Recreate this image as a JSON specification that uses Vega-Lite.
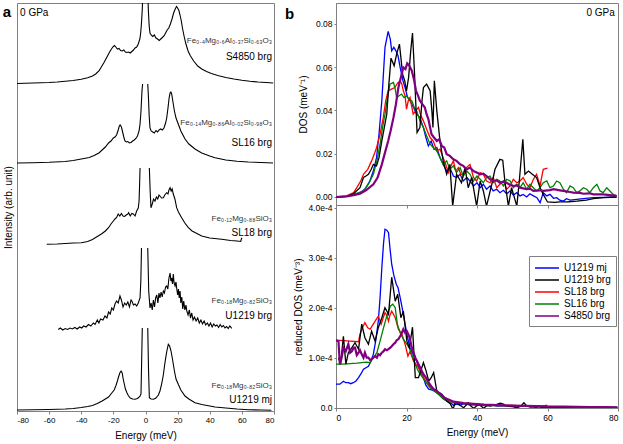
{
  "$schema": "https://vega.github.io/schema/vega-lite/v6.json",
  "padding": {"left": 2, "top": 2, "right": 4, "bottom": 0},
  "config": {
    "font": "Liberation Sans",
    "view": {"stroke": "#808080", "strokeWidth": 1},
    "axis": {"domainColor": "#808080", "tickColor": "#808080", "labelColor": "#000000", "labelFontSize": 8.5, "titleFontSize": 10, "titleFontWeight": "normal", "titleColor": "#000000", "grid": false, "labelFont": "Liberation Sans", "titleFont": "Liberation Sans", "labelOverlap": false},
    "legend": {"labelFont": "Liberation Sans"}
  },
  "datasets": {
    "spec": [
      {"g":"S4850L","e":-80,"v":327.5},{"g":"S4850L","e":-75,"v":327.7},{"g":"S4850L","e":-70,"v":328},{"g":"S4850L","e":-65,"v":328.2},{"g":"S4850L","e":-60,"v":328.5},{"g":"S4850L","e":-55,"v":329},{"g":"S4850L","e":-50,"v":329.7},{"g":"S4850L","e":-45,"v":330.5},{"g":"S4850L","e":-40,"v":331.7},{"g":"S4850L","e":-36,"v":333.2},{"g":"S4850L","e":-33,"v":335},{"g":"S4850L","e":-31,"v":337},{"g":"S4850L","e":-29,"v":340},{"g":"S4850L","e":-27.5,"v":344},{"g":"S4850L","e":-26,"v":348},{"g":"S4850L","e":-25,"v":351},{"g":"S4850L","e":-24,"v":354},{"g":"S4850L","e":-23,"v":357},{"g":"S4850L","e":-22,"v":360},{"g":"S4850L","e":-21,"v":362.5},{"g":"S4850L","e":-20,"v":364.5},{"g":"S4850L","e":-19.3,"v":365.5},{"g":"S4850L","e":-18.5,"v":364},{"g":"S4850L","e":-17.5,"v":362},{"g":"S4850L","e":-16.5,"v":362.5},{"g":"S4850L","e":-15.5,"v":360.5},{"g":"S4850L","e":-14.5,"v":360},{"g":"S4850L","e":-13.5,"v":361},{"g":"S4850L","e":-12.5,"v":359},{"g":"S4850L","e":-11.5,"v":358.5},{"g":"S4850L","e":-10.5,"v":359},{"g":"S4850L","e":-9.5,"v":358},{"g":"S4850L","e":-8.5,"v":359.5},{"g":"S4850L","e":-7.5,"v":361},{"g":"S4850L","e":-6.5,"v":363},{"g":"S4850L","e":-5.5,"v":364},{"g":"S4850L","e":-4.5,"v":367},{"g":"S4850L","e":-3.5,"v":372},{"g":"S4850L","e":-3,"v":378},{"g":"S4850L","e":-2.5,"v":388},{"g":"S4850L","e":-2,"v":402},{"g":"S4850L","e":-1.7,"v":415},
      {"g":"S4850R","e":1.5,"v":415},{"g":"S4850R","e":1.8,"v":400},{"g":"S4850R","e":2.3,"v":385},{"g":"S4850R","e":2.8,"v":378},{"g":"S4850R","e":3.5,"v":376},{"g":"S4850R","e":4.5,"v":374.5},{"g":"S4850R","e":5.5,"v":376},{"g":"S4850R","e":6.5,"v":373},{"g":"S4850R","e":7.5,"v":372},{"g":"S4850R","e":8.5,"v":370.5},{"g":"S4850R","e":9.5,"v":372},{"g":"S4850R","e":10.5,"v":373.5},{"g":"S4850R","e":11.5,"v":375},{"g":"S4850R","e":12.5,"v":378},{"g":"S4850R","e":13.5,"v":381},{"g":"S4850R","e":14.5,"v":383},{"g":"S4850R","e":15.5,"v":387},{"g":"S4850R","e":16.5,"v":392},{"g":"S4850R","e":17.5,"v":398},{"g":"S4850R","e":18.5,"v":402},{"g":"S4850R","e":19.3,"v":404.5},{"g":"S4850R","e":20,"v":403},{"g":"S4850R","e":20.8,"v":400.5},{"g":"S4850R","e":21.5,"v":396},{"g":"S4850R","e":22.3,"v":390},{"g":"S4850R","e":23,"v":383},{"g":"S4850R","e":24,"v":375},{"g":"S4850R","e":25,"v":368},{"g":"S4850R","e":26.5,"v":360},{"g":"S4850R","e":28,"v":355},{"g":"S4850R","e":30,"v":350},{"g":"S4850R","e":32.5,"v":345},{"g":"S4850R","e":35,"v":342},{"g":"S4850R","e":38,"v":339.5},{"g":"S4850R","e":41,"v":337.5},{"g":"S4850R","e":45,"v":335.5},{"g":"S4850R","e":50,"v":333.5},{"g":"S4850R","e":55,"v":332},{"g":"S4850R","e":60,"v":330.7},{"g":"S4850R","e":65,"v":329.7},{"g":"S4850R","e":70,"v":329},{"g":"S4850R","e":75,"v":328.5},{"g":"S4850R","e":79.5,"v":328},
      {"g":"SL16L","e":-80,"v":248},{"g":"SL16L","e":-70,"v":248.3},{"g":"SL16L","e":-60,"v":248.7},{"g":"SL16L","e":-50,"v":249.5},{"g":"SL16L","e":-45,"v":250.5},{"g":"SL16L","e":-40,"v":252},{"g":"SL16L","e":-35,"v":253.5},{"g":"SL16L","e":-32,"v":255.5},{"g":"SL16L","e":-29,"v":258},{"g":"SL16L","e":-27,"v":261},{"g":"SL16L","e":-25,"v":264},{"g":"SL16L","e":-23,"v":268},{"g":"SL16L","e":-21.5,"v":270},{"g":"SL16L","e":-20,"v":273},{"g":"SL16L","e":-19,"v":274},{"g":"SL16L","e":-18,"v":276},{"g":"SL16L","e":-17,"v":281},{"g":"SL16L","e":-16.3,"v":285},{"g":"SL16L","e":-15.8,"v":286},{"g":"SL16L","e":-15,"v":284},{"g":"SL16L","e":-14.4,"v":280},{"g":"SL16L","e":-13.5,"v":274},{"g":"SL16L","e":-12.8,"v":270},{"g":"SL16L","e":-12,"v":269},{"g":"SL16L","e":-11,"v":269.5},{"g":"SL16L","e":-10,"v":268},{"g":"SL16L","e":-9,"v":268.5},{"g":"SL16L","e":-8,"v":270},{"g":"SL16L","e":-7,"v":271},{"g":"SL16L","e":-6,"v":272.5},{"g":"SL16L","e":-5,"v":275},{"g":"SL16L","e":-4,"v":280},{"g":"SL16L","e":-3.4,"v":287},{"g":"SL16L","e":-2.8,"v":300},{"g":"SL16L","e":-2.2,"v":320},{"g":"SL16L","e":-1.8,"v":327},
      {"g":"SL16R","e":1.4,"v":327},{"g":"SL16R","e":1.8,"v":315},{"g":"SL16R","e":2.3,"v":295},{"g":"SL16R","e":2.8,"v":283},{"g":"SL16R","e":3.5,"v":280},{"g":"SL16R","e":4.5,"v":279},{"g":"SL16R","e":5.5,"v":278},{"g":"SL16R","e":6.5,"v":280.5},{"g":"SL16R","e":7.5,"v":279},{"g":"SL16R","e":8.5,"v":281},{"g":"SL16R","e":9.5,"v":282},{"g":"SL16R","e":10.5,"v":281},{"g":"SL16R","e":11.5,"v":283},{"g":"SL16R","e":12.5,"v":288},{"g":"SL16R","e":13.2,"v":293},{"g":"SL16R","e":14,"v":303},{"g":"SL16R","e":14.7,"v":313},{"g":"SL16R","e":15.3,"v":318},{"g":"SL16R","e":15.8,"v":319},{"g":"SL16R","e":16.3,"v":317},{"g":"SL16R","e":17,"v":310},{"g":"SL16R","e":18,"v":300},{"g":"SL16R","e":19,"v":293},{"g":"SL16R","e":20.4,"v":287},{"g":"SL16R","e":22,"v":280},{"g":"SL16R","e":24.6,"v":272},{"g":"SL16R","e":27,"v":267},{"g":"SL16R","e":30.8,"v":262},{"g":"SL16R","e":35,"v":258},{"g":"SL16R","e":40,"v":255},{"g":"SL16R","e":43.3,"v":253.3},{"g":"SL16R","e":50,"v":251},{"g":"SL16R","e":57,"v":249.7},{"g":"SL16R","e":64,"v":249},{"g":"SL16R","e":72,"v":248.5},{"g":"SL16R","e":79.4,"v":248},
      {"g":"SL18L","e":-61.5,"v":166.7},{"g":"SL18L","e":-55,"v":167},{"g":"SL18L","e":-50,"v":167.5},{"g":"SL18L","e":-45,"v":168},{"g":"SL18L","e":-40,"v":168.3},{"g":"SL18L","e":-36,"v":169.5},{"g":"SL18L","e":-33,"v":171.5},{"g":"SL18L","e":-30.5,"v":174},{"g":"SL18L","e":-29,"v":175.5},{"g":"SL18L","e":-27,"v":177.5},{"g":"SL18L","e":-25,"v":180},{"g":"SL18L","e":-23,"v":183.3},{"g":"SL18L","e":-21.5,"v":187},{"g":"SL18L","e":-20,"v":190},{"g":"SL18L","e":-19,"v":192},{"g":"SL18L","e":-18,"v":193.5},{"g":"SL18L","e":-17,"v":197},{"g":"SL18L","e":-16,"v":195},{"g":"SL18L","e":-15,"v":197.5},{"g":"SL18L","e":-14,"v":195},{"g":"SL18L","e":-13,"v":194.5},{"g":"SL18L","e":-12,"v":196},{"g":"SL18L","e":-11,"v":197},{"g":"SL18L","e":-10.5,"v":198.3},{"g":"SL18L","e":-9.5,"v":195},{"g":"SL18L","e":-8.5,"v":197.5},{"g":"SL18L","e":-7.6,"v":197},{"g":"SL18L","e":-6.5,"v":195},{"g":"SL18L","e":-5.5,"v":200},{"g":"SL18L","e":-4.5,"v":203},{"g":"SL18L","e":-4,"v":210},{"g":"SL18L","e":-3.7,"v":225},{"g":"SL18L","e":-3.4,"v":243},
      {"g":"SL18R","e":2.4,"v":243},{"g":"SL18R","e":2.9,"v":220},{"g":"SL18R","e":3.4,"v":203.3},{"g":"SL18R","e":4.2,"v":207},{"g":"SL18R","e":5,"v":212},{"g":"SL18R","e":5.9,"v":210},{"g":"SL18R","e":6.8,"v":214},{"g":"SL18R","e":7.6,"v":212},{"g":"SL18R","e":8.4,"v":216},{"g":"SL18R","e":9,"v":215},{"g":"SL18R","e":10,"v":213},{"g":"SL18R","e":11.1,"v":213.3},{"g":"SL18R","e":12,"v":216},{"g":"SL18R","e":13.2,"v":218.3},{"g":"SL18R","e":14,"v":217},{"g":"SL18R","e":14.6,"v":221},{"g":"SL18R","e":15.3,"v":223.3},{"g":"SL18R","e":16,"v":220},{"g":"SL18R","e":16.6,"v":222},{"g":"SL18R","e":17.3,"v":217},{"g":"SL18R","e":18.3,"v":212},{"g":"SL18R","e":19.4,"v":203.3},{"g":"SL18R","e":20.5,"v":199},{"g":"SL18R","e":22.5,"v":193.3},{"g":"SL18R","e":24.5,"v":188},{"g":"SL18R","e":26.7,"v":183.3},{"g":"SL18R","e":29,"v":180},{"g":"SL18R","e":32,"v":177.5},{"g":"SL18R","e":35,"v":175},{"g":"SL18R","e":40,"v":173},{"g":"SL18R","e":47.4,"v":171.7},{"g":"SL18R","e":53,"v":170.5},{"g":"SL18R","e":57,"v":170},{"g":"SL18R","e":59.3,"v":169.5},{"g":"SL18R","e":59.6,"v":171.5},{"g":"SL18R","e":60,"v":173.3},
      {"g":"BRGL","e":-54.3,"v":81.5},{"g":"BRGL","e":-53,"v":83},{"g":"BRGL","e":-51.5,"v":81},{"g":"BRGL","e":-50,"v":82.5},{"g":"BRGL","e":-48.5,"v":81.5},{"g":"BRGL","e":-47,"v":83},{"g":"BRGL","e":-45.5,"v":82},{"g":"BRGL","e":-44,"v":83.5},{"g":"BRGL","e":-42.5,"v":82},{"g":"BRGL","e":-41,"v":84},{"g":"BRGL","e":-39.7,"v":83},{"g":"BRGL","e":-38.5,"v":85},{"g":"BRGL","e":-37,"v":84},{"g":"BRGL","e":-35.5,"v":86.5},{"g":"BRGL","e":-34,"v":85},{"g":"BRGL","e":-32.5,"v":88},{"g":"BRGL","e":-31.4,"v":86.5},{"g":"BRGL","e":-30,"v":91},{"g":"BRGL","e":-29,"v":88},{"g":"BRGL","e":-28,"v":92},{"g":"BRGL","e":-26.5,"v":91},{"g":"BRGL","e":-25.2,"v":95},{"g":"BRGL","e":-24,"v":93},{"g":"BRGL","e":-23,"v":99},{"g":"BRGL","e":-22,"v":97},{"g":"BRGL","e":-21,"v":103},{"g":"BRGL","e":-20,"v":101},{"g":"BRGL","e":-19,"v":107},{"g":"BRGL","e":-18,"v":110},{"g":"BRGL","e":-17,"v":108},{"g":"BRGL","e":-15.9,"v":115},{"g":"BRGL","e":-15,"v":111},{"g":"BRGL","e":-14,"v":104},{"g":"BRGL","e":-13,"v":108},{"g":"BRGL","e":-12,"v":106},{"g":"BRGL","e":-11,"v":109},{"g":"BRGL","e":-10,"v":104},{"g":"BRGL","e":-9,"v":111},{"g":"BRGL","e":-8.5,"v":110},{"g":"BRGL","e":-7.5,"v":106},{"g":"BRGL","e":-6.5,"v":107},{"g":"BRGL","e":-5.5,"v":105},{"g":"BRGL","e":-4.5,"v":108},{"g":"BRGL","e":-3.4,"v":113},{"g":"BRGL","e":-2.9,"v":130},{"g":"BRGL","e":-2.5,"v":163},
      {"g":"BRGR","e":1.4,"v":163},{"g":"BRGR","e":2,"v":120},{"g":"BRGR","e":2.8,"v":103},{"g":"BRGR","e":3.5,"v":108},{"g":"BRGR","e":4.2,"v":101},{"g":"BRGR","e":4.9,"v":111},{"g":"BRGR","e":5.6,"v":104},{"g":"BRGR","e":6.3,"v":113},{"g":"BRGR","e":7,"v":116},{"g":"BRGR","e":7.7,"v":108},{"g":"BRGR","e":8.4,"v":118},{"g":"BRGR","e":9,"v":113},{"g":"BRGR","e":9.7,"v":119},{"g":"BRGR","e":10.4,"v":114},{"g":"BRGR","e":11.1,"v":120},{"g":"BRGR","e":11.8,"v":118},{"g":"BRGR","e":12.5,"v":124},{"g":"BRGR","e":13.2,"v":125},{"g":"BRGR","e":13.9,"v":122},{"g":"BRGR","e":14.6,"v":133},{"g":"BRGR","e":15.3,"v":138},{"g":"BRGR","e":15.8,"v":130},{"g":"BRGR","e":16.3,"v":133},{"g":"BRGR","e":16.8,"v":127},{"g":"BRGR","e":17.3,"v":137},{"g":"BRGR","e":17.8,"v":128},{"g":"BRGR","e":18.4,"v":125},{"g":"BRGR","e":19,"v":129},{"g":"BRGR","e":19.4,"v":123},{"g":"BRGR","e":20,"v":116},{"g":"BRGR","e":20.5,"v":122},{"g":"BRGR","e":21,"v":113},{"g":"BRGR","e":21.5,"v":120},{"g":"BRGR","e":22,"v":108},{"g":"BRGR","e":22.6,"v":114},{"g":"BRGR","e":23.2,"v":102},{"g":"BRGR","e":23.8,"v":110},{"g":"BRGR","e":24.5,"v":101},{"g":"BRGR","e":25.2,"v":106},{"g":"BRGR","e":25.7,"v":100},{"g":"BRGR","e":26.5,"v":96},{"g":"BRGR","e":27.3,"v":101},{"g":"BRGR","e":28,"v":93},{"g":"BRGR","e":28.8,"v":98},{"g":"BRGR","e":29.6,"v":91},{"g":"BRGR","e":30.5,"v":94},{"g":"BRGR","e":31.5,"v":90},{"g":"BRGR","e":32.5,"v":93},{"g":"BRGR","e":33.5,"v":88},{"g":"BRGR","e":34.5,"v":91},{"g":"BRGR","e":35.5,"v":87},{"g":"BRGR","e":36.5,"v":90},{"g":"BRGR","e":37.5,"v":86},{"g":"BRGR","e":38.5,"v":88},{"g":"BRGR","e":39.5,"v":85},{"g":"BRGR","e":40.5,"v":88},{"g":"BRGR","e":41.5,"v":84},{"g":"BRGR","e":42.5,"v":87},{"g":"BRGR","e":43.5,"v":85},{"g":"BRGR","e":44.5,"v":86},{"g":"BRGR","e":45.5,"v":83.5},{"g":"BRGR","e":46.5,"v":86.5},{"g":"BRGR","e":47.5,"v":84},{"g":"BRGR","e":48.5,"v":85.5},{"g":"BRGR","e":49.5,"v":83},{"g":"BRGR","e":50.5,"v":84.5},{"g":"BRGR","e":51.5,"v":82.5},{"g":"BRGR","e":52.5,"v":85},{"g":"BRGR","e":53.7,"v":82.7},
      {"g":"MJL","e":-80,"v":1},{"g":"MJL","e":-70,"v":1.2},{"g":"MJL","e":-60,"v":1.5},{"g":"MJL","e":-50,"v":2},{"g":"MJL","e":-45,"v":2.5},{"g":"MJL","e":-40,"v":3.5},{"g":"MJL","e":-36,"v":4.5},{"g":"MJL","e":-33,"v":5.5},{"g":"MJL","e":-30,"v":7.5},{"g":"MJL","e":-27,"v":10},{"g":"MJL","e":-25,"v":12},{"g":"MJL","e":-23,"v":14},{"g":"MJL","e":-21,"v":18},{"g":"MJL","e":-19.5,"v":21},{"g":"MJL","e":-18.5,"v":25},{"g":"MJL","e":-17.5,"v":30},{"g":"MJL","e":-16.8,"v":34},{"g":"MJL","e":-16,"v":38},{"g":"MJL","e":-15.2,"v":40},{"g":"MJL","e":-14.5,"v":38},{"g":"MJL","e":-14,"v":33},{"g":"MJL","e":-13.2,"v":27},{"g":"MJL","e":-12.5,"v":22},{"g":"MJL","e":-11.5,"v":18},{"g":"MJL","e":-10.7,"v":15.5},{"g":"MJL","e":-9.5,"v":13},{"g":"MJL","e":-8,"v":12},{"g":"MJL","e":-6.5,"v":11.7},{"g":"MJL","e":-5,"v":12.5},{"g":"MJL","e":-3.5,"v":14.5},{"g":"MJL","e":-2.8,"v":17},{"g":"MJL","e":-2.4,"v":50},{"g":"MJL","e":-2,"v":83},
      {"g":"MJR","e":1.4,"v":83},{"g":"MJR","e":1.9,"v":40},{"g":"MJR","e":2.4,"v":13.3},{"g":"MJR","e":3.5,"v":12},{"g":"MJR","e":5,"v":11.7},{"g":"MJR","e":6.5,"v":13},{"g":"MJR","e":8,"v":16},{"g":"MJR","e":9,"v":20},{"g":"MJR","e":10,"v":26.7},{"g":"MJR","e":11,"v":35},{"g":"MJR","e":12,"v":47},{"g":"MJR","e":12.6,"v":53.3},{"g":"MJR","e":13.3,"v":60},{"g":"MJR","e":14.2,"v":66.7},{"g":"MJR","e":15,"v":65},{"g":"MJR","e":15.9,"v":60},{"g":"MJR","e":17,"v":50},{"g":"MJR","e":18,"v":40},{"g":"MJR","e":19,"v":32},{"g":"MJR","e":20.4,"v":26.7},{"g":"MJR","e":22,"v":21},{"g":"MJR","e":24.6,"v":15},{"g":"MJR","e":27,"v":12},{"g":"MJR","e":30.8,"v":8.3},{"g":"MJR","e":35,"v":6.5},{"g":"MJR","e":40,"v":5},{"g":"MJR","e":43.3,"v":4},{"g":"MJR","e":50,"v":3},{"g":"MJR","e":57,"v":2},{"g":"MJR","e":64,"v":1.3},{"g":"MJR","e":72,"v":1},{"g":"MJR","e":78.4,"v":0.7}
    ],
    "alab": [
      {"k":"f","e":78.8,"v":370,"t":"Fe₀.₄Mg₀.₆Al₀.₃₇Si₀.₆₃O₃"},
      {"k":"n","e":78.8,"v":354,"t":"S4850 brg"},
      {"k":"f","e":78.8,"v":288,"t":"Fe₀.₁₄Mg₀.₈₆Al₀.₀₂Si₀.₉₈O₃"},
      {"k":"n","e":78.8,"v":268,"t":"SL16 brg"},
      {"k":"f","e":78.8,"v":192,"t":"Fe₀.₁₂Mg₀.₈₈SiO₃"},
      {"k":"n","e":78.8,"v":178,"t":"SL18 brg"},
      {"k":"f","e":78.8,"v":110,"t":"Fe₀.₁₈Mg₀.₈₂SiO₃"},
      {"k":"n","e":78.8,"v":95,"t":"U1219 brg"},
      {"k":"f","e":78.8,"v":25,"t":"Fe₀.₁₈Mg₀.₈₂SiO₃"},
      {"k":"n","e":78.8,"v":11,"t":"U1219 mj"},
      {"k":"p","e":-78.1,"v":398,"t":"0 GPa"},
      {"k":"b","e":-88.8,"v":399,"t":"a"}
    ],
    "dos": [
      {"s":"U1219 mj","e":0,"v":0},{"s":"U1219 mj","e":3,"v":0.0003},{"s":"U1219 mj","e":5,"v":0.0009},{"s":"U1219 mj","e":6.8,"v":0.002},{"s":"U1219 mj","e":8.2,"v":0.0036},{"s":"U1219 mj","e":9.6,"v":0.0074},{"s":"U1219 mj","e":10.6,"v":0.012},{"s":"U1219 mj","e":11.5,"v":0.0182},{"s":"U1219 mj","e":12.2,"v":0.029},{"s":"U1219 mj","e":13,"v":0.0445},{"s":"U1219 mj","e":13.9,"v":0.0692},{"s":"U1219 mj","e":14.8,"v":0.0766},{"s":"U1219 mj","e":15.4,"v":0.073},{"s":"U1219 mj","e":15.8,"v":0.0676},{"s":"U1219 mj","e":16.4,"v":0.0692},{"s":"U1219 mj","e":17,"v":0.0676},{"s":"U1219 mj","e":17.6,"v":0.0653},{"s":"U1219 mj","e":18.2,"v":0.0599},{"s":"U1219 mj","e":19,"v":0.0537},{"s":"U1219 mj","e":19.6,"v":0.0506},{"s":"U1219 mj","e":20.3,"v":0.046},{"s":"U1219 mj","e":21,"v":0.0445},{"s":"U1219 mj","e":22,"v":0.0414},{"s":"U1219 mj","e":22.9,"v":0.0383},{"s":"U1219 mj","e":23.8,"v":0.0367},{"s":"U1219 mj","e":24.8,"v":0.0321},{"s":"U1219 mj","e":25.5,"v":0.0275},{"s":"U1219 mj","e":26.2,"v":0.0236},{"s":"U1219 mj","e":27,"v":0.0259},{"s":"U1219 mj","e":27.8,"v":0.0221},{"s":"U1219 mj","e":28.6,"v":0.0229},{"s":"U1219 mj","e":29.5,"v":0.0182},{"s":"U1219 mj","e":30.4,"v":0.0151},{"s":"U1219 mj","e":31.4,"v":0.012},{"s":"U1219 mj","e":32.3,"v":0.0136},{"s":"U1219 mj","e":33.3,"v":0.0097},{"s":"U1219 mj","e":34.2,"v":0.009},{"s":"U1219 mj","e":35.2,"v":0.0105},{"s":"U1219 mj","e":36.1,"v":0.0074},{"s":"U1219 mj","e":37.1,"v":0.009},{"s":"U1219 mj","e":38,"v":0.0074},{"s":"U1219 mj","e":39,"v":0.0051},{"s":"U1219 mj","e":40,"v":0.0066},{"s":"U1219 mj","e":40.9,"v":0.0043},{"s":"U1219 mj","e":41.8,"v":0.0059},{"s":"U1219 mj","e":42.7,"v":0.0036},{"s":"U1219 mj","e":43.7,"v":0.0051},{"s":"U1219 mj","e":44.6,"v":0.0028},{"s":"U1219 mj","e":45.6,"v":0.0036},{"s":"U1219 mj","e":46.5,"v":0.002},{"s":"U1219 mj","e":47.5,"v":0.0031},{"s":"U1219 mj","e":48.4,"v":0.0015},{"s":"U1219 mj","e":49.4,"v":0.0028},{"s":"U1219 mj","e":50.3,"v":0.0009},{"s":"U1219 mj","e":51.3,"v":0.002},{"s":"U1219 mj","e":52.2,"v":0.0005},{"s":"U1219 mj","e":53.1,"v":0.0012},{"s":"U1219 mj","e":54.1,"v":0},{"s":"U1219 mj","e":55,"v":0.0015},{"s":"U1219 mj","e":56,"v":0.0005},{"s":"U1219 mj","e":57,"v":-0.0003},{"s":"U1219 mj","e":57.9,"v":-0.0026},{"s":"U1219 mj","e":58.8,"v":0.002},{"s":"U1219 mj","e":59.8,"v":0.0005},{"s":"U1219 mj","e":60.7,"v":0.0012},{"s":"U1219 mj","e":61.7,"v":-0.0006},{"s":"U1219 mj","e":62.6,"v":-0.0003},{"s":"U1219 mj","e":63.5,"v":-0.0015},{"s":"U1219 mj","e":64.5,"v":-0.0019},{"s":"U1219 mj","e":65.4,"v":-0.0008},{"s":"U1219 mj","e":66.4,"v":-0.0014},{"s":"U1219 mj","e":68.3,"v":-0.0011},{"s":"U1219 mj","e":70.2,"v":-0.0008},{"s":"U1219 mj","e":73,"v":-0.0003},{"s":"U1219 mj","e":76,"v":-0.0002},{"s":"U1219 mj","e":79.6,"v":0},
      {"s":"SL18 brg","e":0,"v":0},{"s":"SL18 brg","e":3,"v":0.0005},{"s":"SL18 brg","e":5,"v":0.002},{"s":"SL18 brg","e":5.9,"v":0.0043},{"s":"SL18 brg","e":7,"v":0.0074},{"s":"SL18 brg","e":7.8,"v":0.0105},{"s":"SL18 brg","e":9,"v":0.0128},{"s":"SL18 brg","e":10.1,"v":0.0167},{"s":"SL18 brg","e":11,"v":0.0205},{"s":"SL18 brg","e":11.5,"v":0.0228},{"s":"SL18 brg","e":12.5,"v":0.029},{"s":"SL18 brg","e":13.4,"v":0.0367},{"s":"SL18 brg","e":14.1,"v":0.0445},{"s":"SL18 brg","e":14.8,"v":0.0491},{"s":"SL18 brg","e":15.7,"v":0.0499},{"s":"SL18 brg","e":16.7,"v":0.0506},{"s":"SL18 brg","e":17.4,"v":0.0525},{"s":"SL18 brg","e":18.2,"v":0.0537},{"s":"SL18 brg","e":18.7,"v":0.0522},{"s":"SL18 brg","e":19.1,"v":0.0491},{"s":"SL18 brg","e":19.6,"v":0.0468},{"s":"SL18 brg","e":20,"v":0.0406},{"s":"SL18 brg","e":20.5,"v":0.0445},{"s":"SL18 brg","e":21,"v":0.046},{"s":"SL18 brg","e":21.9,"v":0.0383},{"s":"SL18 brg","e":22.6,"v":0.0398},{"s":"SL18 brg","e":23.4,"v":0.0414},{"s":"SL18 brg","e":24.1,"v":0.0375},{"s":"SL18 brg","e":24.8,"v":0.0352},{"s":"SL18 brg","e":25.7,"v":0.0313},{"s":"SL18 brg","e":26.7,"v":0.0275},{"s":"SL18 brg","e":27.6,"v":0.0259},{"s":"SL18 brg","e":28.6,"v":0.0213},{"s":"SL18 brg","e":29.5,"v":0.0221},{"s":"SL18 brg","e":30.4,"v":0.0182},{"s":"SL18 brg","e":31.1,"v":0.0151},{"s":"SL18 brg","e":31.9,"v":0.0113},{"s":"SL18 brg","e":32.6,"v":0.0144},{"s":"SL18 brg","e":33.3,"v":0.0167},{"s":"SL18 brg","e":34,"v":0.012},{"s":"SL18 brg","e":34.7,"v":0.0136},{"s":"SL18 brg","e":35.4,"v":0.0105},{"s":"SL18 brg","e":36.1,"v":0.0105},{"s":"SL18 brg","e":37,"v":0.0136},{"s":"SL18 brg","e":38,"v":0.0151},{"s":"SL18 brg","e":39,"v":0.009},{"s":"SL18 brg","e":39.9,"v":0.0074},{"s":"SL18 brg","e":40.9,"v":0.0113},{"s":"SL18 brg","e":41.8,"v":0.0105},{"s":"SL18 brg","e":42.7,"v":0.0074},{"s":"SL18 brg","e":43.7,"v":0.0066},{"s":"SL18 brg","e":44.6,"v":0.009},{"s":"SL18 brg","e":45.6,"v":0.0043},{"s":"SL18 brg","e":46.5,"v":0.0059},{"s":"SL18 brg","e":47.5,"v":0.0074},{"s":"SL18 brg","e":48.4,"v":0.0036},{"s":"SL18 brg","e":49.4,"v":0.0051},{"s":"SL18 brg","e":50.3,"v":0.0082},{"s":"SL18 brg","e":51.3,"v":0.0066},{"s":"SL18 brg","e":52.2,"v":0.0074},{"s":"SL18 brg","e":53.1,"v":0.009},{"s":"SL18 brg","e":54.1,"v":0.0059},{"s":"SL18 brg","e":55,"v":0.0043},{"s":"SL18 brg","e":56,"v":0.0082},{"s":"SL18 brg","e":56.9,"v":0.0105},{"s":"SL18 brg","e":57.9,"v":0.0051},{"s":"SL18 brg","e":58.5,"v":0.0105},{"s":"SL18 brg","e":58.8,"v":0.0128},{"s":"SL18 brg","e":60,"v":0.0133},
      {"s":"SL16 brg","e":0,"v":0},{"s":"SL16 brg","e":3,"v":0.0003},{"s":"SL16 brg","e":5,"v":0.0012},{"s":"SL16 brg","e":6.5,"v":0.002},{"s":"SL16 brg","e":7.8,"v":0.0028},{"s":"SL16 brg","e":9.2,"v":0.0059},{"s":"SL16 brg","e":10.6,"v":0.0105},{"s":"SL16 brg","e":11.6,"v":0.0167},{"s":"SL16 brg","e":12.5,"v":0.0244},{"s":"SL16 brg","e":13.2,"v":0.0321},{"s":"SL16 brg","e":13.9,"v":0.0383},{"s":"SL16 brg","e":14.6,"v":0.046},{"s":"SL16 brg","e":15.3,"v":0.0522},{"s":"SL16 brg","e":16.3,"v":0.053},{"s":"SL16 brg","e":16.8,"v":0.0499},{"s":"SL16 brg","e":17.2,"v":0.046},{"s":"SL16 brg","e":17.9,"v":0.0468},{"s":"SL16 brg","e":18.6,"v":0.0476},{"s":"SL16 brg","e":19.3,"v":0.046},{"s":"SL16 brg","e":20,"v":0.0468},{"s":"SL16 brg","e":20.8,"v":0.0452},{"s":"SL16 brg","e":21.5,"v":0.0445},{"s":"SL16 brg","e":22.2,"v":0.0414},{"s":"SL16 brg","e":22.9,"v":0.0398},{"s":"SL16 brg","e":23.8,"v":0.0352},{"s":"SL16 brg","e":24.8,"v":0.0321},{"s":"SL16 brg","e":25.7,"v":0.0283},{"s":"SL16 brg","e":26.7,"v":0.0244},{"s":"SL16 brg","e":27.6,"v":0.0229},{"s":"SL16 brg","e":28.6,"v":0.0213},{"s":"SL16 brg","e":29.5,"v":0.0182},{"s":"SL16 brg","e":30.4,"v":0.0151},{"s":"SL16 brg","e":31.4,"v":0.0167},{"s":"SL16 brg","e":32.3,"v":0.0128},{"s":"SL16 brg","e":33.3,"v":0.0144},{"s":"SL16 brg","e":34.2,"v":0.0113},{"s":"SL16 brg","e":35.2,"v":0.0136},{"s":"SL16 brg","e":36.1,"v":0.0097},{"s":"SL16 brg","e":37.1,"v":0.012},{"s":"SL16 brg","e":38,"v":0.0105},{"s":"SL16 brg","e":39,"v":0.0074},{"s":"SL16 brg","e":40,"v":0.0097},{"s":"SL16 brg","e":40.9,"v":0.0082},{"s":"SL16 brg","e":41.8,"v":0.0066},{"s":"SL16 brg","e":42.7,"v":0.009},{"s":"SL16 brg","e":43.7,"v":0.0097},{"s":"SL16 brg","e":44.6,"v":0.0066},{"s":"SL16 brg","e":45.6,"v":0.0082},{"s":"SL16 brg","e":46.5,"v":0.0074},{"s":"SL16 brg","e":47.5,"v":0.0051},{"s":"SL16 brg","e":48.4,"v":0.0082},{"s":"SL16 brg","e":49.4,"v":0.0074},{"s":"SL16 brg","e":50.3,"v":0.0043},{"s":"SL16 brg","e":51.3,"v":0.0059},{"s":"SL16 brg","e":52.2,"v":0.0043},{"s":"SL16 brg","e":53.1,"v":0.0066},{"s":"SL16 brg","e":54.1,"v":0.0036},{"s":"SL16 brg","e":55,"v":0.0059},{"s":"SL16 brg","e":56,"v":0.0043},{"s":"SL16 brg","e":56.9,"v":0.0028},{"s":"SL16 brg","e":57.9,"v":0.0043},{"s":"SL16 brg","e":58.8,"v":0.0066},{"s":"SL16 brg","e":59.8,"v":0.0074},{"s":"SL16 brg","e":60.7,"v":0.0043},{"s":"SL16 brg","e":61.7,"v":0.0051},{"s":"SL16 brg","e":62.6,"v":0.0074},{"s":"SL16 brg","e":63.5,"v":0.0066},{"s":"SL16 brg","e":64.5,"v":0.0036},{"s":"SL16 brg","e":65.4,"v":0.002},{"s":"SL16 brg","e":66.4,"v":0.0051},{"s":"SL16 brg","e":67.3,"v":0.0043},{"s":"SL16 brg","e":68.3,"v":0.002},{"s":"SL16 brg","e":69.2,"v":0.0028},{"s":"SL16 brg","e":70.2,"v":0.0043},{"s":"SL16 brg","e":71.1,"v":0.0036},{"s":"SL16 brg","e":72,"v":0.002},{"s":"SL16 brg","e":73,"v":0.0043},{"s":"SL16 brg","e":74,"v":0.0059},{"s":"SL16 brg","e":74.9,"v":0.0028},{"s":"SL16 brg","e":75.8,"v":0.002},{"s":"SL16 brg","e":76.8,"v":0.0043},{"s":"SL16 brg","e":77.7,"v":0.0028},{"s":"SL16 brg","e":78.6,"v":0.0012},{"s":"SL16 brg","e":79.6,"v":0.0005},
      {"s":"U1219 brg","e":0,"v":0},{"s":"U1219 brg","e":3,"v":0.0003},{"s":"U1219 brg","e":5,"v":0.0015},{"s":"U1219 brg","e":6.8,"v":0.0043},{"s":"U1219 brg","e":7.8,"v":0.009},{"s":"U1219 brg","e":8.5,"v":0.0097},{"s":"U1219 brg","e":9.2,"v":0.0105},{"s":"U1219 brg","e":10,"v":0.0128},{"s":"U1219 brg","e":10.6,"v":0.0151},{"s":"U1219 brg","e":11.5,"v":0.0144},{"s":"U1219 brg","e":12.2,"v":0.0182},{"s":"U1219 brg","e":13,"v":0.0259},{"s":"U1219 brg","e":13.7,"v":0.0321},{"s":"U1219 brg","e":14.4,"v":0.0383},{"s":"U1219 brg","e":15,"v":0.0522},{"s":"U1219 brg","e":15.6,"v":0.0642},{"s":"U1219 brg","e":16.5,"v":0.0607},{"s":"U1219 brg","e":17.2,"v":0.0661},{"s":"U1219 brg","e":18,"v":0.0707},{"s":"U1219 brg","e":18.9,"v":0.0568},{"s":"U1219 brg","e":19.5,"v":0.0537},{"s":"U1219 brg","e":20,"v":0.0491},{"s":"U1219 brg","e":20.6,"v":0.0553},{"s":"U1219 brg","e":21.2,"v":0.0676},{"s":"U1219 brg","e":21.7,"v":0.0758},{"s":"U1219 brg","e":22.2,"v":0.0599},{"s":"U1219 brg","e":22.6,"v":0.0445},{"s":"U1219 brg","e":23,"v":0.0298},{"s":"U1219 brg","e":23.8,"v":0.0321},{"s":"U1219 brg","e":24.4,"v":0.0445},{"s":"U1219 brg","e":24.8,"v":0.0506},{"s":"U1219 brg","e":25.7,"v":0.0522},{"s":"U1219 brg","e":26.7,"v":0.0491},{"s":"U1219 brg","e":27.2,"v":0.0398},{"s":"U1219 brg","e":27.5,"v":0.0321},{"s":"U1219 brg","e":27.9,"v":0.0537},{"s":"U1219 brg","e":28.6,"v":0.0398},{"s":"U1219 brg","e":29.5,"v":0.0259},{"s":"U1219 brg","e":30.4,"v":0.0167},{"s":"U1219 brg","e":31.4,"v":0.0105},{"s":"U1219 brg","e":32.3,"v":0.0151},{"s":"U1219 brg","e":33.1,"v":-0.0042},{"s":"U1219 brg","e":34.2,"v":0.0105},{"s":"U1219 brg","e":35.6,"v":0.0066},{"s":"U1219 brg","e":36.6,"v":0.0136},{"s":"U1219 brg","e":37.5,"v":0.0043},{"s":"U1219 brg","e":38.5,"v":0.009},{"s":"U1219 brg","e":39.9,"v":-0.0042},{"s":"U1219 brg","e":40.9,"v":0.0074},{"s":"U1219 brg","e":41.8,"v":0.0028},{"s":"U1219 brg","e":42.7,"v":-0.0042},{"s":"U1219 brg","e":44.2,"v":0.0059},{"s":"U1219 brg","e":45.1,"v":0.0128},{"s":"U1219 brg","e":46.5,"v":0.0174},{"s":"U1219 brg","e":47.3,"v":0.017},{"s":"U1219 brg","e":47.9,"v":0.0074},{"s":"U1219 brg","e":48.9,"v":-0.0042},{"s":"U1219 brg","e":49.8,"v":0.0043},{"s":"U1219 brg","e":51.3,"v":-0.0042},{"s":"U1219 brg","e":52,"v":0.0074},{"s":"U1219 brg","e":53,"v":0.0267},{"s":"U1219 brg","e":53.6,"v":0.0105},{"s":"U1219 brg","e":54.6,"v":0.012},{"s":"U1219 brg","e":55.7,"v":0.0105},{"s":"U1219 brg","e":56.9,"v":0.009},{"s":"U1219 brg","e":57.9,"v":0.0043},{"s":"U1219 brg","e":58.8,"v":0.0012},{"s":"U1219 brg","e":60,"v":-0.0023},{"s":"U1219 brg","e":62,"v":-0.0025},{"s":"U1219 brg","e":63.5,"v":-0.0023},{"s":"U1219 brg","e":66,"v":-0.0022},{"s":"U1219 brg","e":68.3,"v":-0.0019},{"s":"U1219 brg","e":71,"v":-0.0014},{"s":"U1219 brg","e":73,"v":-0.0008},{"s":"U1219 brg","e":76,"v":-0.0003},{"s":"U1219 brg","e":79.6,"v":0},
      {"s":"S4850 brg","e":0,"v":0},{"s":"S4850 brg","e":3,"v":0.0003},{"s":"S4850 brg","e":5,"v":0.0008},{"s":"S4850 brg","e":6.8,"v":0.0015},{"s":"S4850 brg","e":8.5,"v":0.0031},{"s":"S4850 brg","e":10.6,"v":0.0059},{"s":"S4850 brg","e":11.8,"v":0.009},{"s":"S4850 brg","e":13,"v":0.0151},{"s":"S4850 brg","e":13.9,"v":0.0205},{"s":"S4850 brg","e":14.8,"v":0.0259},{"s":"S4850 brg","e":15.5,"v":0.0306},{"s":"S4850 brg","e":16.3,"v":0.0367},{"s":"S4850 brg","e":17,"v":0.0429},{"s":"S4850 brg","e":17.7,"v":0.0506},{"s":"S4850 brg","e":18.4,"v":0.0553},{"s":"S4850 brg","e":19.1,"v":0.0599},{"s":"S4850 brg","e":19.7,"v":0.0591},{"s":"S4850 brg","e":20.2,"v":0.0618},{"s":"S4850 brg","e":20.8,"v":0.0607},{"s":"S4850 brg","e":21.5,"v":0.0584},{"s":"S4850 brg","e":22.1,"v":0.0545},{"s":"S4850 brg","e":22.7,"v":0.0491},{"s":"S4850 brg","e":23.3,"v":0.0468},{"s":"S4850 brg","e":23.8,"v":0.0445},{"s":"S4850 brg","e":24.5,"v":0.0429},{"s":"S4850 brg","e":25.2,"v":0.0414},{"s":"S4850 brg","e":25.7,"v":0.0383},{"s":"S4850 brg","e":26.2,"v":0.036},{"s":"S4850 brg","e":26.7,"v":0.0321},{"s":"S4850 brg","e":27.1,"v":0.029},{"s":"S4850 brg","e":27.8,"v":0.0275},{"s":"S4850 brg","e":28.6,"v":0.0259},{"s":"S4850 brg","e":29.3,"v":0.0267},{"s":"S4850 brg","e":30,"v":0.0236},{"s":"S4850 brg","e":30.7,"v":0.0229},{"s":"S4850 brg","e":31.4,"v":0.0198},{"s":"S4850 brg","e":32.3,"v":0.019},{"s":"S4850 brg","e":33.3,"v":0.0174},{"s":"S4850 brg","e":34.2,"v":0.0167},{"s":"S4850 brg","e":35.2,"v":0.0151},{"s":"S4850 brg","e":36.1,"v":0.0144},{"s":"S4850 brg","e":37.1,"v":0.0128},{"s":"S4850 brg","e":38,"v":0.0136},{"s":"S4850 brg","e":39,"v":0.012},{"s":"S4850 brg","e":39.9,"v":0.0113},{"s":"S4850 brg","e":40.9,"v":0.0105},{"s":"S4850 brg","e":41.8,"v":0.0108},{"s":"S4850 brg","e":42.7,"v":0.0097},{"s":"S4850 brg","e":43.7,"v":0.0082},{"s":"S4850 brg","e":44.6,"v":0.0074},{"s":"S4850 brg","e":45.6,"v":0.0077},{"s":"S4850 brg","e":46.5,"v":0.0066},{"s":"S4850 brg","e":47.5,"v":0.0071},{"s":"S4850 brg","e":48.4,"v":0.0066},{"s":"S4850 brg","e":49.4,"v":0.0056},{"s":"S4850 brg","e":50.3,"v":0.0051},{"s":"S4850 brg","e":51.3,"v":0.0054},{"s":"S4850 brg","e":52.2,"v":0.0043},{"s":"S4850 brg","e":53.1,"v":0.004},{"s":"S4850 brg","e":54.1,"v":0.0036},{"s":"S4850 brg","e":55,"v":0.0039},{"s":"S4850 brg","e":56,"v":0.0028},{"s":"S4850 brg","e":57.9,"v":0.0031},{"s":"S4850 brg","e":58.8,"v":0.0028},{"s":"S4850 brg","e":60.7,"v":0.0032},{"s":"S4850 brg","e":61.7,"v":0.0036},{"s":"S4850 brg","e":63.5,"v":0.0031},{"s":"S4850 brg","e":64.5,"v":0.0028},{"s":"S4850 brg","e":66.4,"v":0.0023},{"s":"S4850 brg","e":67.3,"v":0.002},{"s":"S4850 brg","e":69.2,"v":0.0019},{"s":"S4850 brg","e":70.2,"v":0.0015},{"s":"S4850 brg","e":72,"v":0.0017},{"s":"S4850 brg","e":73,"v":0.0012},{"s":"S4850 brg","e":75.8,"v":0.0012},{"s":"S4850 brg","e":77.7,"v":0.0009},{"s":"S4850 brg","e":79.6,"v":0.0005}
    ],
    "rdos": [
      {"s":"U1219 mj","e":0,"v":0.47e-4},{"s":"U1219 mj","e":1.1,"v":0.47e-4},{"s":"U1219 mj","e":2.1,"v":0.53e-4},{"s":"U1219 mj","e":2.8,"v":0.5e-4},{"s":"U1219 mj","e":3.5,"v":0.5e-4},{"s":"U1219 mj","e":4.2,"v":0.48e-4},{"s":"U1219 mj","e":4.9,"v":0.5e-4},{"s":"U1219 mj","e":5.6,"v":0.53e-4},{"s":"U1219 mj","e":6.4,"v":0.6e-4},{"s":"U1219 mj","e":7.1,"v":0.68e-4},{"s":"U1219 mj","e":7.8,"v":0.77e-4},{"s":"U1219 mj","e":8.5,"v":0.8e-4},{"s":"U1219 mj","e":9.2,"v":0.83e-4},{"s":"U1219 mj","e":9.9,"v":0.93e-4},{"s":"U1219 mj","e":10.6,"v":1.07e-4},{"s":"U1219 mj","e":11.3,"v":1.35e-4},{"s":"U1219 mj","e":12,"v":1.73e-4},{"s":"U1219 mj","e":12.5,"v":2.2e-4},{"s":"U1219 mj","e":13,"v":2.8e-4},{"s":"U1219 mj","e":13.5,"v":3.3e-4},{"s":"U1219 mj","e":13.9,"v":3.57e-4},{"s":"U1219 mj","e":14.4,"v":3.55e-4},{"s":"U1219 mj","e":14.9,"v":3.5e-4},{"s":"U1219 mj","e":15.3,"v":3.2e-4},{"s":"U1219 mj","e":15.8,"v":2.87e-4},{"s":"U1219 mj","e":16.4,"v":2.65e-4},{"s":"U1219 mj","e":17.1,"v":2.47e-4},{"s":"U1219 mj","e":17.6,"v":2.4e-4},{"s":"U1219 mj","e":18.2,"v":2.2e-4},{"s":"U1219 mj","e":18.9,"v":1.95e-4},{"s":"U1219 mj","e":19.6,"v":1.67e-4},{"s":"U1219 mj","e":20.3,"v":1.4e-4},{"s":"U1219 mj","e":21,"v":1.2e-4},{"s":"U1219 mj","e":22,"v":1.05e-4},{"s":"U1219 mj","e":22.9,"v":0.93e-4},{"s":"U1219 mj","e":23.8,"v":0.75e-4},{"s":"U1219 mj","e":24.8,"v":0.6e-4},{"s":"U1219 mj","e":25.5,"v":0.45e-4},{"s":"U1219 mj","e":26.3,"v":0.37e-4},{"s":"U1219 mj","e":27.4,"v":0.35e-4},{"s":"U1219 mj","e":28.6,"v":0.3e-4},{"s":"U1219 mj","e":29.5,"v":0.25e-4},{"s":"U1219 mj","e":30.5,"v":0.18e-4},{"s":"U1219 mj","e":31.5,"v":0.13e-4},{"s":"U1219 mj","e":32.5,"v":0.1e-4},{"s":"U1219 mj","e":33.3,"v":0.05e-4},{"s":"U1219 mj","e":34.3,"v":0.07e-4},{"s":"U1219 mj","e":35.3,"v":0.05e-4},{"s":"U1219 mj","e":36.2,"v":0.08e-4},{"s":"U1219 mj","e":38.1,"v":0.05e-4},{"s":"U1219 mj","e":40,"v":0.06e-4},{"s":"U1219 mj","e":42,"v":0.04e-4},{"s":"U1219 mj","e":44,"v":0.05e-4},{"s":"U1219 mj","e":45.7,"v":0.03e-4},{"s":"U1219 mj","e":48,"v":0.04e-4},{"s":"U1219 mj","e":50,"v":0.03e-4},{"s":"U1219 mj","e":53.3,"v":0.03e-4},{"s":"U1219 mj","e":56,"v":0.02e-4},{"s":"U1219 mj","e":58,"v":-0.03e-4},{"s":"U1219 mj","e":59,"v":0.03e-4},{"s":"U1219 mj","e":61,"v":0.01e-4},{"s":"U1219 mj","e":65,"v":0.01e-4},{"s":"U1219 mj","e":70,"v":0.01e-4},{"s":"U1219 mj","e":75,"v":0.005e-4},{"s":"U1219 mj","e":79.8,"v":0.005e-4},
      {"s":"SL18 brg","e":0,"v":1.35e-4},{"s":"SL18 brg","e":2,"v":1.34e-4},{"s":"SL18 brg","e":4,"v":1.33e-4},{"s":"SL18 brg","e":6.4,"v":1.32e-4},{"s":"SL18 brg","e":6.8,"v":1.47e-4},{"s":"SL18 brg","e":7.5,"v":1.6e-4},{"s":"SL18 brg","e":8.2,"v":1.7e-4},{"s":"SL18 brg","e":9,"v":1.6e-4},{"s":"SL18 brg","e":9.7,"v":1.57e-4},{"s":"SL18 brg","e":10.4,"v":1.65e-4},{"s":"SL18 brg","e":11.1,"v":1.73e-4},{"s":"SL18 brg","e":12,"v":1.83e-4},{"s":"SL18 brg","e":12.8,"v":1.67e-4},{"s":"SL18 brg","e":13.4,"v":1.8e-4},{"s":"SL18 brg","e":13.9,"v":1.9e-4},{"s":"SL18 brg","e":14.4,"v":1.85e-4},{"s":"SL18 brg","e":14.9,"v":1.73e-4},{"s":"SL18 brg","e":15.3,"v":1.85e-4},{"s":"SL18 brg","e":15.8,"v":1.93e-4},{"s":"SL18 brg","e":16.3,"v":1.87e-4},{"s":"SL18 brg","e":16.8,"v":1.8e-4},{"s":"SL18 brg","e":17.7,"v":1.57e-4},{"s":"SL18 brg","e":18.7,"v":1.47e-4},{"s":"SL18 brg","e":19.6,"v":1.27e-4},{"s":"SL18 brg","e":20.4,"v":1.03e-4},{"s":"SL18 brg","e":21,"v":1.13e-4},{"s":"SL18 brg","e":22,"v":0.93e-4},{"s":"SL18 brg","e":23.4,"v":0.8e-4},{"s":"SL18 brg","e":24.8,"v":0.6e-4},{"s":"SL18 brg","e":25.7,"v":0.5e-4},{"s":"SL18 brg","e":26.7,"v":0.43e-4},{"s":"SL18 brg","e":27.6,"v":0.37e-4},{"s":"SL18 brg","e":28.6,"v":0.3e-4},{"s":"SL18 brg","e":29.5,"v":0.25e-4},{"s":"SL18 brg","e":30.5,"v":0.2e-4},{"s":"SL18 brg","e":31.4,"v":0.17e-4},{"s":"SL18 brg","e":32.4,"v":0.13e-4},{"s":"SL18 brg","e":33.3,"v":0.12e-4},{"s":"SL18 brg","e":34.3,"v":0.1e-4},{"s":"SL18 brg","e":35.3,"v":0.1e-4},{"s":"SL18 brg","e":36.2,"v":0.08e-4},{"s":"SL18 brg","e":37.1,"v":0.09e-4},{"s":"SL18 brg","e":38.1,"v":0.07e-4},{"s":"SL18 brg","e":39.1,"v":0.08e-4},{"s":"SL18 brg","e":40,"v":0.06e-4},{"s":"SL18 brg","e":41.9,"v":0.05e-4},{"s":"SL18 brg","e":43.8,"v":0.05e-4},{"s":"SL18 brg","e":45.7,"v":0.05e-4},{"s":"SL18 brg","e":47.6,"v":0.04e-4},{"s":"SL18 brg","e":49.5,"v":0.05e-4},{"s":"SL18 brg","e":51.4,"v":0.04e-4},{"s":"SL18 brg","e":53.3,"v":0.04e-4},{"s":"SL18 brg","e":55.2,"v":0.03e-4},{"s":"SL18 brg","e":57.1,"v":0.04e-4},{"s":"SL18 brg","e":58.5,"v":0.03e-4},{"s":"SL18 brg","e":59.9,"v":0.05e-4},
      {"s":"SL16 brg","e":0,"v":0.87e-4},{"s":"SL16 brg","e":2,"v":0.87e-4},{"s":"SL16 brg","e":4,"v":0.88e-4},{"s":"SL16 brg","e":5.9,"v":0.89e-4},{"s":"SL16 brg","e":7.3,"v":0.9e-4},{"s":"SL16 brg","e":8.7,"v":0.91e-4},{"s":"SL16 brg","e":9.7,"v":0.9e-4},{"s":"SL16 brg","e":10.6,"v":1.0e-4},{"s":"SL16 brg","e":11.6,"v":1.1e-4},{"s":"SL16 brg","e":12.5,"v":1.33e-4},{"s":"SL16 brg","e":13.5,"v":1.6e-4},{"s":"SL16 brg","e":14.4,"v":1.83e-4},{"s":"SL16 brg","e":15.4,"v":2.03e-4},{"s":"SL16 brg","e":16.1,"v":2.07e-4},{"s":"SL16 brg","e":16.8,"v":2.0e-4},{"s":"SL16 brg","e":17.4,"v":1.67e-4},{"s":"SL16 brg","e":18.2,"v":1.5e-4},{"s":"SL16 brg","e":19.1,"v":1.37e-4},{"s":"SL16 brg","e":20.1,"v":1.27e-4},{"s":"SL16 brg","e":21,"v":1.17e-4},{"s":"SL16 brg","e":21.8,"v":1.0e-4},{"s":"SL16 brg","e":22.5,"v":0.87e-4},{"s":"SL16 brg","e":23.2,"v":0.75e-4},{"s":"SL16 brg","e":23.9,"v":0.67e-4},{"s":"SL16 brg","e":25.3,"v":0.53e-4},{"s":"SL16 brg","e":26.7,"v":0.4e-4},{"s":"SL16 brg","e":28.6,"v":0.3e-4},{"s":"SL16 brg","e":30.5,"v":0.17e-4},{"s":"SL16 brg","e":32.4,"v":0.1e-4},{"s":"SL16 brg","e":34.3,"v":0.09e-4},{"s":"SL16 brg","e":36.2,"v":0.08e-4},{"s":"SL16 brg","e":38.1,"v":0.07e-4},{"s":"SL16 brg","e":40,"v":0.05e-4},{"s":"SL16 brg","e":42.9,"v":0.05e-4},{"s":"SL16 brg","e":45.7,"v":0.04e-4},{"s":"SL16 brg","e":49.5,"v":0.035e-4},{"s":"SL16 brg","e":53.3,"v":0.03e-4},{"s":"SL16 brg","e":57.1,"v":0.025e-4},{"s":"SL16 brg","e":60.9,"v":0.02e-4},{"s":"SL16 brg","e":64.7,"v":0.02e-4},{"s":"SL16 brg","e":68.4,"v":0.015e-4},{"s":"SL16 brg","e":72.2,"v":0.01e-4},{"s":"SL16 brg","e":76,"v":0.01e-4},{"s":"SL16 brg","e":79.8,"v":0.007e-4},
      {"s":"U1219 brg","e":0.7,"v":1.0e-4},{"s":"U1219 brg","e":1.3,"v":0.87e-4},{"s":"U1219 brg","e":2.1,"v":1.43e-4},{"s":"U1219 brg","e":2.8,"v":0.87e-4},{"s":"U1219 brg","e":3.5,"v":1.1e-4},{"s":"U1219 brg","e":4.5,"v":1.2e-4},{"s":"U1219 brg","e":5.4,"v":1.3e-4},{"s":"U1219 brg","e":6.4,"v":1.17e-4},{"s":"U1219 brg","e":7.3,"v":1.67e-4},{"s":"U1219 brg","e":8.2,"v":1.4e-4},{"s":"U1219 brg","e":9.2,"v":1.27e-4},{"s":"U1219 brg","e":10.1,"v":1.53e-4},{"s":"U1219 brg","e":11.1,"v":1.33e-4},{"s":"U1219 brg","e":12,"v":1.6e-4},{"s":"U1219 brg","e":13,"v":1.8e-4},{"s":"U1219 brg","e":13.9,"v":2.0e-4},{"s":"U1219 brg","e":14.9,"v":1.87e-4},{"s":"U1219 brg","e":15.8,"v":2.61e-4},{"s":"U1219 brg","e":16.8,"v":2.13e-4},{"s":"U1219 brg","e":17.5,"v":2.27e-4},{"s":"U1219 brg","e":18.4,"v":1.8e-4},{"s":"U1219 brg","e":19.1,"v":1.93e-4},{"s":"U1219 brg","e":20.1,"v":1.33e-4},{"s":"U1219 brg","e":20.8,"v":1.2e-4},{"s":"U1219 brg","e":21.7,"v":1.61e-4},{"s":"U1219 brg","e":22.5,"v":0.6e-4},{"s":"U1219 brg","e":23.4,"v":0.6e-4},{"s":"U1219 brg","e":24.1,"v":0.75e-4},{"s":"U1219 brg","e":24.8,"v":0.9e-4},{"s":"U1219 brg","e":25.5,"v":0.75e-4},{"s":"U1219 brg","e":26.3,"v":0.53e-4},{"s":"U1219 brg","e":27,"v":0.6e-4},{"s":"U1219 brg","e":27.7,"v":0.7e-4},{"s":"U1219 brg","e":28.6,"v":0.33e-4},{"s":"U1219 brg","e":29.3,"v":0.3e-4},{"s":"U1219 brg","e":30,"v":0.27e-4},{"s":"U1219 brg","e":30.8,"v":0.2e-4},{"s":"U1219 brg","e":31.5,"v":0.13e-4},{"s":"U1219 brg","e":32.4,"v":0.08e-4},{"s":"U1219 brg","e":33.2,"v":-0.03e-4},{"s":"U1219 brg","e":33.8,"v":0.1e-4},{"s":"U1219 brg","e":34.3,"v":0.1e-4},{"s":"U1219 brg","e":35.2,"v":0.05e-4},{"s":"U1219 brg","e":36.2,"v":0},{"s":"U1219 brg","e":37.6,"v":0.1e-4},{"s":"U1219 brg","e":38.3,"v":0.03e-4},{"s":"U1219 brg","e":39.1,"v":-0.01e-4},{"s":"U1219 brg","e":40.5,"v":0.07e-4},{"s":"U1219 brg","e":41.9,"v":-0.01e-4},{"s":"U1219 brg","e":42.8,"v":0.04e-4},{"s":"U1219 brg","e":43.8,"v":0.03e-4},{"s":"U1219 brg","e":45,"v":0.05e-4},{"s":"U1219 brg","e":46.6,"v":0.09e-4},{"s":"U1219 brg","e":47.5,"v":0.07e-4},{"s":"U1219 brg","e":48.5,"v":0.03e-4},{"s":"U1219 brg","e":50,"v":0.02e-4},{"s":"U1219 brg","e":51.4,"v":0},{"s":"U1219 brg","e":52.4,"v":0.03e-4},{"s":"U1219 brg","e":53.3,"v":0.1e-4},{"s":"U1219 brg","e":54.2,"v":0.03e-4},{"s":"U1219 brg","e":55.2,"v":0.01e-4},{"s":"U1219 brg","e":57,"v":0.02e-4},{"s":"U1219 brg","e":59,"v":0},{"s":"U1219 brg","e":65,"v":0},{"s":"U1219 brg","e":70,"v":0},{"s":"U1219 brg","e":79.8,"v":0},
      {"s":"S4850 brg","e":0,"v":1.35e-4},{"s":"S4850 brg","e":0.7,"v":1.33e-4},{"s":"S4850 brg","e":1.1,"v":0.87e-4},{"s":"S4850 brg","e":1.6,"v":1.0e-4},{"s":"S4850 brg","e":2.1,"v":1.2e-4},{"s":"S4850 brg","e":2.8,"v":1.13e-4},{"s":"S4850 brg","e":3.5,"v":1.27e-4},{"s":"S4850 brg","e":4,"v":1.1e-4},{"s":"S4850 brg","e":4.5,"v":1.13e-4},{"s":"S4850 brg","e":5,"v":1.2e-4},{"s":"S4850 brg","e":5.4,"v":1.2e-4},{"s":"S4850 brg","e":5.9,"v":1.05e-4},{"s":"S4850 brg","e":6.4,"v":1.1e-4},{"s":"S4850 brg","e":6.8,"v":1.15e-4},{"s":"S4850 brg","e":7.3,"v":1.07e-4},{"s":"S4850 brg","e":7.8,"v":1.0e-4},{"s":"S4850 brg","e":8.2,"v":1.1e-4},{"s":"S4850 brg","e":8.7,"v":1.0e-4},{"s":"S4850 brg","e":9.2,"v":1.0e-4},{"s":"S4850 brg","e":9.7,"v":0.95e-4},{"s":"S4850 brg","e":10.1,"v":0.97e-4},{"s":"S4850 brg","e":10.6,"v":1.0e-4},{"s":"S4850 brg","e":11.1,"v":1.03e-4},{"s":"S4850 brg","e":11.6,"v":1.0e-4},{"s":"S4850 brg","e":12,"v":1.07e-4},{"s":"S4850 brg","e":12.5,"v":1.05e-4},{"s":"S4850 brg","e":13,"v":1.1e-4},{"s":"S4850 brg","e":13.5,"v":1.13e-4},{"s":"S4850 brg","e":13.9,"v":1.17e-4},{"s":"S4850 brg","e":14.4,"v":1.15e-4},{"s":"S4850 brg","e":14.9,"v":1.17e-4},{"s":"S4850 brg","e":15.4,"v":1.2e-4},{"s":"S4850 brg","e":15.8,"v":1.23e-4},{"s":"S4850 brg","e":16.3,"v":1.27e-4},{"s":"S4850 brg","e":16.8,"v":1.3e-4},{"s":"S4850 brg","e":17.2,"v":1.35e-4},{"s":"S4850 brg","e":17.7,"v":1.37e-4},{"s":"S4850 brg","e":18.2,"v":1.43e-4},{"s":"S4850 brg","e":18.7,"v":1.5e-4},{"s":"S4850 brg","e":19.1,"v":1.57e-4},{"s":"S4850 brg","e":19.6,"v":1.5e-4},{"s":"S4850 brg","e":20.1,"v":1.53e-4},{"s":"S4850 brg","e":20.5,"v":1.47e-4},{"s":"S4850 brg","e":20.9,"v":1.4e-4},{"s":"S4850 brg","e":21.2,"v":1.3e-4},{"s":"S4850 brg","e":21.5,"v":1.2e-4},{"s":"S4850 brg","e":22,"v":1.1e-4},{"s":"S4850 brg","e":22.5,"v":1.0e-4},{"s":"S4850 brg","e":23,"v":0.93e-4},{"s":"S4850 brg","e":23.4,"v":0.87e-4},{"s":"S4850 brg","e":24.1,"v":0.77e-4},{"s":"S4850 brg","e":24.8,"v":0.67e-4},{"s":"S4850 brg","e":25.5,"v":0.6e-4},{"s":"S4850 brg","e":26.3,"v":0.5e-4},{"s":"S4850 brg","e":27,"v":0.43e-4},{"s":"S4850 brg","e":27.7,"v":0.37e-4},{"s":"S4850 brg","e":28.4,"v":0.35e-4},{"s":"S4850 brg","e":29.1,"v":0.3e-4},{"s":"S4850 brg","e":29.8,"v":0.27e-4},{"s":"S4850 brg","e":30.5,"v":0.21e-4},{"s":"S4850 brg","e":31.4,"v":0.18e-4},{"s":"S4850 brg","e":32.4,"v":0.15e-4},{"s":"S4850 brg","e":33.3,"v":0.12e-4},{"s":"S4850 brg","e":34.3,"v":0.11e-4},{"s":"S4850 brg","e":35.3,"v":0.1e-4},{"s":"S4850 brg","e":36.2,"v":0.09e-4},{"s":"S4850 brg","e":37.2,"v":0.085e-4},{"s":"S4850 brg","e":38.1,"v":0.08e-4},{"s":"S4850 brg","e":40,"v":0.07e-4},{"s":"S4850 brg","e":42,"v":0.06e-4},{"s":"S4850 brg","e":44,"v":0.055e-4},{"s":"S4850 brg","e":45.7,"v":0.05e-4},{"s":"S4850 brg","e":48,"v":0.045e-4},{"s":"S4850 brg","e":50,"v":0.04e-4},{"s":"S4850 brg","e":53.3,"v":0.035e-4},{"s":"S4850 brg","e":57,"v":0.03e-4},{"s":"S4850 brg","e":60.9,"v":0.02e-4},{"s":"S4850 brg","e":64.7,"v":0.02e-4},{"s":"S4850 brg","e":68.4,"v":0.015e-4},{"s":"S4850 brg","e":72.2,"v":0.01e-4},{"s":"S4850 brg","e":76,"v":0.01e-4},{"s":"S4850 brg","e":79.8,"v":0.007e-4}
    ]
  },
  "hconcat": [
    {
      "width": 257,
      "height": 408,
      "encoding": {
        "x": {"field": "e", "type": "quantitative", "scale": {"domain": [-80, 80], "nice": false}, "axis": {"values": [-80, -60, -40, -20, 0, 20, 40, 60, 80], "labelExpr": "datum.value + ''", "title": "Energy (meV)", "tickSize": 3, "labelPadding": 2, "titlePadding": 6, "labelOverlap": false, "labelFontSize": 8}},
        "y": {"field": "v", "type": "quantitative", "scale": {"domain": [0, 408], "nice": false}, "axis": {"title": "Intensity (arb. unit)", "labels": false, "ticks": false, "domain": false, "titlePadding": 4}}
      },
      "layer": [
        {
          "data": {"name": "spec"},
          "mark": {"type": "line", "color": "#000000", "strokeWidth": 1.1, "clip": true},
          "encoding": {"detail": {"field": "g"}}
        },
        {
          "data": {"name": "alab"},
          "transform": [{"filter": "datum.k == 'f'"}],
          "mark": {"type": "text", "align": "right", "baseline": "middle", "fontSize": 8, "color": "#333333"},
          "encoding": {"text": {"field": "t"}}
        },
        {
          "data": {"name": "alab"},
          "transform": [{"filter": "datum.k == 'n'"}],
          "mark": {"type": "text", "align": "right", "baseline": "middle", "fontSize": 10, "color": "#000000"},
          "encoding": {"text": {"field": "t"}}
        },
        {
          "data": {"name": "alab"},
          "transform": [{"filter": "datum.k == 'p'"}],
          "mark": {"type": "text", "align": "left", "baseline": "middle", "fontSize": 10, "color": "#000000"},
          "encoding": {"text": {"field": "t"}}
        },
        {
          "data": {"name": "alab"},
          "transform": [{"filter": "datum.k == 'b'"}],
          "mark": {"type": "text", "align": "left", "baseline": "middle", "fontSize": 15, "fontWeight": "bold", "color": "#000000"},
          "encoding": {"text": {"field": "t"}}
        }
      ]
    },
    {
      "spacing": 0,
      "bounds": "flush",
      "resolve": {"scale": {"color": "shared"}, "legend": {"color": "independent"}},
      "vconcat": [
        {
          "width": 282,
          "height": 202,
          "encoding": {
            "x": {"field": "e", "type": "quantitative", "scale": {"domain": [0, 80], "nice": false}, "axis": {"title": null, "labels": false, "values": [0, 20, 40, 60, 80], "tickSize": 3}},
            "y": {"field": "v", "type": "quantitative", "scale": {"domain": [-0.0037, 0.0897], "nice": false, "zero": false}, "axis": {"title": "DOS (meV⁻¹)", "values": [0, 0.02, 0.04, 0.06, 0.08], "format": ".2f", "tickSize": 2, "labelPadding": 2, "titlePadding": 7}}
          },
          "layer": [
            {
              "data": {"name": "dos"},
              "encoding": {
                "color": {"field": "s", "type": "nominal", "scale": {"domain": ["U1219 mj", "U1219 brg", "SL18 brg", "SL16 brg", "S4850 brg"], "range": ["#0000ff", "#000000", "#ff0000", "#008000", "#800080"]}, "legend": null}
              },
              "layer": [
                {"transform": [{"filter": "datum.s != 'S4850 brg'"}], "mark": {"type": "line", "strokeWidth": 1.3, "clip": true}},
                {"transform": [{"filter": "datum.s == 'S4850 brg'"}], "mark": {"type": "line", "strokeWidth": 2.2, "clip": true}}
              ]
            },
            {
              "data": {"values": [{"e": 79.1, "v": 0.085, "t": "0 GPa"}]},
              "mark": {"type": "text", "align": "right", "baseline": "middle", "fontSize": 10, "color": "#000000"},
              "encoding": {"text": {"field": "t"}}
            },
            {
              "data": {"values": [{"e": -14.5, "v": 0.0845, "t": "b"}]},
              "mark": {"type": "text", "align": "left", "baseline": "middle", "fontSize": 15, "fontWeight": "bold", "color": "#000000"},
              "encoding": {"text": {"field": "t"}}
            }
          ]
        },
        {
          "width": 282,
          "height": 203,
          "data": {"name": "rdos"},
          "encoding": {
            "x": {"field": "e", "type": "quantitative", "scale": {"domain": [0, 80], "nice": false}, "axis": {"title": "Energy (meV)", "values": [0, 20, 40, 60, 80], "tickSize": 3, "labelPadding": 2, "titlePadding": 6}},
            "y": {"field": "v", "type": "quantitative", "scale": {"domain": [-0.0000006, 0.0004054], "nice": false, "zero": false}, "axis": {"title": "reduced DOS (meV⁻³)", "values": [0, 0.0001, 0.0002, 0.0003, 0.0004], "labelExpr": "datum.value == 0 ? '0.0' : format(datum.value, '.1e')", "tickSize": 2, "labelPadding": 2, "titlePadding": 4}},
            "color": {"field": "s", "type": "nominal", "scale": {"domain": ["U1219 mj", "U1219 brg", "SL18 brg", "SL16 brg", "S4850 brg"], "range": ["#0000ff", "#000000", "#ff0000", "#008000", "#800080"]}, "legend": {"title": null, "orient": "none", "legendX": 193, "legendY": 51, "strokeColor": "#808080", "fillColor": "#ffffff", "padding": 5, "symbolType": "M-2,0L2,0", "symbolSize": 144, "symbolOffset": 6, "symbolStrokeWidth": 1.5, "symbolFillColor": "transparent", "labelFontSize": 10, "labelOffset": 10, "rowPadding": 0, "labelColor": "#000000"}}
          },
          "layer": [
            {"transform": [{"filter": "datum.s != 'S4850 brg'"}], "mark": {"type": "line", "strokeWidth": 1.3, "clip": true}},
            {"transform": [{"filter": "datum.s == 'S4850 brg'"}], "mark": {"type": "line", "strokeWidth": 2.2, "clip": true}}
          ]
        }
      ]
    }
  ],
  "spacing": 62,
  "bounds": "flush"
}
